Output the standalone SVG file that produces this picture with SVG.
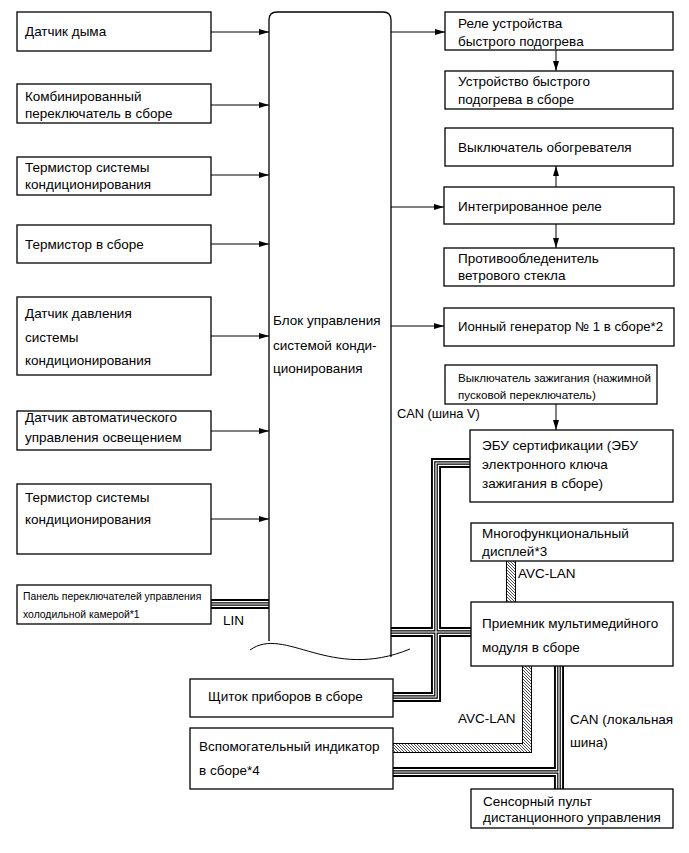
<svg xmlns="http://www.w3.org/2000/svg" width="689" height="853" viewBox="0 0 689 853">
<defs>
<style>
.box{fill:#fff;stroke:#000;stroke-width:1.3}
text{font-family:"Liberation Sans",Arial,sans-serif;font-size:13.5px;fill:#000}
.sm{font-size:10.4px}
.sm2{font-size:11.6px}
.ln{stroke:#000;stroke-width:1;fill:none}
.b1{stroke:#000;stroke-width:10;fill:none}
.b2{stroke:#fff;stroke-width:6.2;fill:none}
.b3{stroke:#000;stroke-width:3.6;fill:none}
.b4{stroke:#fff;stroke-width:1.2;fill:none}
.h1{stroke:#000;stroke-width:10;fill:none}
.h2{stroke:#fff;stroke-width:8;fill:none}
.h3{stroke:url(#hatch);stroke-width:8;fill:none}
</style>
<marker id="arr" viewBox="0 0 10 6" refX="10" refY="3" markerWidth="10" markerHeight="6" markerUnits="userSpaceOnUse" orient="auto"><path d="M0,0 L10,3 L0,6 z" fill="#000"/></marker>
<pattern id="hatch" patternUnits="userSpaceOnUse" width="3" height="3"><path d="M-1,-1 L4,4 M-1,2 L1,4 M2,-1 L4,1" stroke="#000" stroke-width="0.7"/></pattern>
<path id="pLIN" d="M211,604 H269"/>
<path id="pEBU" d="M470,463 H436 V697 H393"/>
<path id="pMain" d="M391,632 H471"/>
<path id="pCAN" d="M559,666 V789 M559,772 H393"/>
<path id="pAV1" d="M511,561 V602"/>
<path id="pAV2" d="M527,666 V748 H393"/>
</defs>
<rect width="689" height="853" fill="#fff"/>

<g id="connectors">
<line class="ln" x1="211" y1="32" x2="269" y2="32" marker-end="url(#arr)"/>
<line class="ln" x1="211" y1="105" x2="269" y2="105" marker-end="url(#arr)"/>
<line class="ln" x1="211" y1="175" x2="269" y2="175" marker-end="url(#arr)"/>
<line class="ln" x1="211" y1="244" x2="269" y2="244" marker-end="url(#arr)"/>
<line class="ln" x1="211" y1="336" x2="269" y2="336" marker-end="url(#arr)"/>
<line class="ln" x1="211" y1="431" x2="269" y2="431" marker-end="url(#arr)"/>
<line class="ln" x1="211" y1="519" x2="269" y2="519" marker-end="url(#arr)"/>
<line class="ln" x1="391" y1="32" x2="445" y2="32" marker-end="url(#arr)"/>
<line class="ln" x1="391" y1="207" x2="444" y2="207" marker-end="url(#arr)"/>
<line class="ln" x1="391" y1="326" x2="444" y2="326" marker-end="url(#arr)"/>
<line class="ln" x1="556" y1="50" x2="556" y2="71" marker-end="url(#arr)"/>
<line class="ln" x1="556" y1="187" x2="556" y2="166" marker-end="url(#arr)"/>
<line class="ln" x1="556" y1="224" x2="556" y2="248" marker-end="url(#arr)"/>
<line class="ln" x1="556" y1="404" x2="556" y2="430" marker-end="url(#arr)"/>
<g id="buses">
<use href="#pLIN" class="b1"/><use href="#pEBU" class="b1"/><use href="#pMain" class="b1"/><use href="#pCAN" class="b1"/>
<use href="#pLIN" class="b2"/><use href="#pEBU" class="b2"/><use href="#pMain" class="b2"/><use href="#pCAN" class="b2"/>
<use href="#pLIN" class="b3"/><use href="#pEBU" class="b3"/><use href="#pMain" class="b3"/><use href="#pCAN" class="b3"/>
<use href="#pLIN" class="b4"/><use href="#pEBU" class="b4"/><use href="#pMain" class="b4"/><use href="#pCAN" class="b4"/>
<use href="#pAV1" class="h1"/><use href="#pAV2" class="h1"/>
<use href="#pAV1" class="h2"/><use href="#pAV2" class="h2"/>
<use href="#pAV1" class="h3"/><use href="#pAV2" class="h3"/>
</g>
<text x="223" y="625">LIN</text>
<text x="397" y="418" style="font-size:12.8px">CAN (шина V)</text>
<text x="518" y="578">AVC-LAN</text>
<text x="458" y="723">AVC-LAN</text>
<text x="570" y="724">CAN (локальная</text>
<text x="570" y="747">шина)</text>
</g>

<g id="block">
<path d="M269,641 V20 Q269,12 277,12 H383 Q391,12 391,20 V657" fill="none" stroke="#000" stroke-width="1.3"/>
<path d="M250,650 C285,625 330,682 410,649" fill="none" stroke="#000" stroke-width="1"/>
<text x="273" y="325">Блок управления</text>
<text x="273" y="350">системой конди-</text>
<text x="273" y="373">ционирования</text>
</g>

<g id="n1"><rect class="box" x="17" y="12" width="194" height="39"/><text x="25" y="36">Датчик дыма</text></g>
<g id="n2"><rect class="box" x="17" y="84" width="194" height="39"/><text x="25" y="101">Комбинированный</text><text x="25" y="118">переключатель в сборе</text></g>
<g id="n3"><rect class="box" x="17" y="157" width="194" height="38"/><text x="25" y="172">Термистор системы</text><text x="25" y="189">кондиционирования</text></g>
<g id="n4"><rect class="box" x="17" y="225" width="194" height="38"/><text x="25" y="249">Термистор в сборе</text></g>
<g id="n5"><rect class="box" x="17" y="297" width="194" height="78"/><text x="25" y="318">Датчик давления</text><text x="25" y="342">системы</text><text x="25" y="365">кондиционирования</text></g>
<g id="n6"><rect class="box" x="17" y="411" width="194" height="39"/><text x="25" y="422">Датчик автоматического</text><text x="25" y="442">управления освещением</text></g>
<g id="n7"><rect class="box" x="17" y="484" width="194" height="70"/><text x="25" y="502">Термистор системы</text><text x="25" y="524">кондиционирования</text></g>
<g id="n8"><rect class="box" x="17" y="585" width="194" height="39"/><text class="sm" x="23" y="600">Панель переключателей управления</text><text class="sm" x="23" y="618">холодильной камерой*1</text></g>

<g id="r1"><rect class="box" x="445" y="12" width="228" height="38"/><text x="458" y="28">Реле устройства</text><text x="458" y="46">быстрого подогрева</text></g>
<g id="r2"><rect class="box" x="445" y="71" width="228" height="38"/><text x="458" y="86">Устройство быстрого</text><text x="458" y="104">подогрева в сборе</text></g>
<g id="r3"><rect class="box" x="445" y="128" width="228" height="38"/><text x="458" y="152">Выключатель обогревателя</text></g>
<g id="r4"><rect class="box" x="444" y="187" width="230" height="37"/><text x="458" y="211">Интегрированное реле</text></g>
<g id="r5"><rect class="box" x="444" y="248" width="230" height="38"/><text x="458" y="263">Противообледенитель</text><text x="458" y="280">ветрового стекла</text></g>
<g id="r6"><rect class="box" x="444" y="308" width="230" height="38"/><text x="458" y="331" style="font-size:13.2px">Ионный генератор № 1 в сборе*2</text></g>
<g id="r7"><rect class="box" x="445" y="365" width="212" height="39"/><text class="sm2" x="458" y="382">Выключатель зажигания (нажимной</text><text class="sm2" x="458" y="399">пусковой переключатель)</text></g>
<g id="r8"><rect class="box" x="470" y="430" width="203" height="72"/><text x="482" y="450">ЭБУ сертификации (ЭБУ</text><text x="482" y="469">электронного ключа</text><text x="482" y="488">зажигания в сборе)</text></g>
<g id="r9"><rect class="box" x="471" y="523" width="202" height="38"/><text x="482" y="538">Многофункциональный</text><text x="482" y="556">дисплей*3</text></g>
<g id="r10"><rect class="box" x="471" y="602" width="202" height="64"/><text x="482" y="628">Приемник мультимедийного</text><text x="482" y="652">модуля в сборе</text></g>
<g id="r11"><rect class="box" x="190" y="679" width="203" height="38"/><text x="208" y="701">Щиток приборов в сборе</text></g>
<g id="r12"><rect class="box" x="190" y="728" width="203" height="61"/><text x="199" y="751">Вспомогательный индикатор</text><text x="199" y="775">в сборе*4</text></g>
<g id="r13"><rect class="box" x="471" y="789" width="202" height="39"/><text x="483" y="806">Сенсорный пульт</text><text x="483" y="822">дистанционного управления</text></g>
</svg>
